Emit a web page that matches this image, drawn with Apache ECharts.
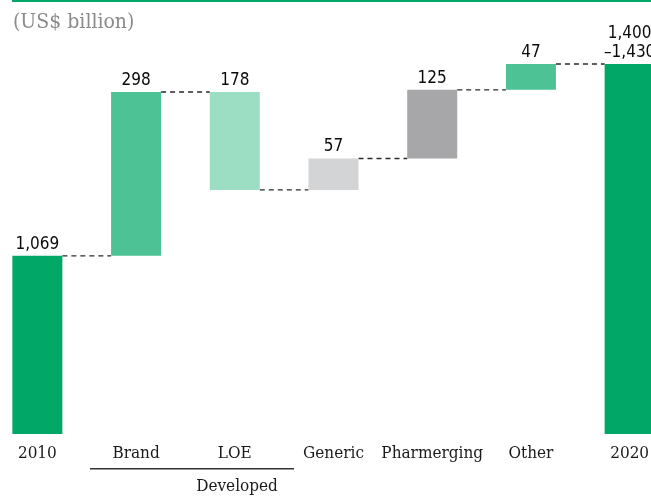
<!DOCTYPE html>
<html><head><meta charset="utf-8">
<script src="https://cdn.jsdelivr.net/npm/echarts@6/dist/echarts.min.js"></script>
<style>html,body{margin:0;padding:0;background:#fff;overflow:hidden}#c{position:absolute;left:-12px;top:0;width:691px;height:499px}</style>
</head><body><div id="c"></div>
<script>
var categories = ['2010', 'Brand', 'LOE', 'Generic', 'Pharmerging', 'Other', '2020'];
var changes = [1069, 298, -178, 57, 125, 47, 1418];
var isTotal = [true, false, false, false, false, false, true];
var valueLabels = ['1,069', '298', '178', '57', '125', '47', '1,400\n\u20131,430'];
var colors = ['#00A767', '#4DC294', '#9CDEC3', '#D3D4D5', '#A7A7A9', '#4DC294', '#00A767'];
var groupLabel = 'Developed';
var unitLabel = '(US$ billion)';
var yMin = 745, yMax = 1418;

var lows = [], highs = [], running = 0;
for (var i = 0; i < changes.length; i++) {
  if (isTotal[i]) { lows.push(yMin); highs.push(changes[i]); running = changes[i]; }
  else {
    var next = running + changes[i];
    lows.push(Math.min(running, next)); highs.push(Math.max(running, next));
    running = next;
  }
}
var levels = [], r = 0;
for (var j = 0; j < changes.length - 1; j++) {
  r = isTotal[j] ? changes[j] : r + changes[j];
  levels.push(r);
}

var barData = categories.map(function (c, i) { return [i, lows[i], highs[i]]; });
var connData = levels.map(function (v, i) { return [i, v]; });

var OX = 12; // container offset
var chart = echarts.init(document.getElementById('c'), null, {renderer: 'canvas'});
var BW = 50;
chart.setOption({
  animation: false,
  grid: {left: 0, right: 0, top: 64, bottom: 65, containLabel: false},
  xAxis: {
    type: 'category', data: categories,
    axisLine: {show: false}, axisTick: {show: false},
    axisLabel: {color: '#1a1a1a', fontFamily: 'DejaVu Serif Condensed', fontSize: 17, margin: 11, interval: 0}
  },
  yAxis: {type: 'value', min: yMin, max: yMax, show: false, splitLine: {show: false}},
  series: [
    {
      type: 'custom', clip: false, z: 2,
      data: connData,
      renderItem: function (params, api) {
        var i = api.value(0), v = api.value(1);
        var p0 = api.coord([i, v]), p1 = api.coord([i + 1, v]);
        return {type: 'line', shape: {x1: p0[0] + BW / 2, y1: p0[1], x2: p1[0] - BW / 2, y2: p1[1]},
          style: {stroke: '#2a2a2a', lineWidth: 1.4, lineDash: [5, 4]}};
      }
    },
    {
      type: 'custom', clip: false, z: 3,
      data: barData,
      renderItem: function (params, api) {
        var i = api.value(0);
        var top = api.coord([i, api.value(2)]);
        var bot = api.coord([i, api.value(1)]);
        var idx = params.dataIndex;
        return {type: 'group', children: [
          {type: 'rect', shape: {x: top[0] - BW / 2, y: top[1], width: BW, height: bot[1] - top[1]},
            style: {fill: colors[idx]}},
          {type: 'text', style: {text: valueLabels[idx], x: top[0], y: top[1] - 2,
            align: 'center', verticalAlign: 'bottom', fill: '#0a0a0a', lineHeight: 19,
            font: '17px "DejaVu Sans Condensed"'}}
        ]};
      }
    }
  ],
  graphic: [
    {type: 'rect', shape: {x: 12 + OX, y: 0, width: 639, height: 2}, style: {fill: '#00A767'}},
    {type: 'text', x: 13 + OX, y: 12, style: {text: unitLabel, fill: '#8a8a8a', font: '21px "DejaVu Serif Condensed"'}},
    {type: 'rect', shape: {x: 90 + OX, y: 468, width: 204, height: 1.5}, style: {fill: '#333'}},
    {type: 'text', x: 237 + OX, y: 487, style: {text: groupLabel, align: 'center', verticalAlign: 'middle', fill: '#1a1a1a', font: '17px "DejaVu Serif Condensed"'}}
  ]
});
</script></body></html>
